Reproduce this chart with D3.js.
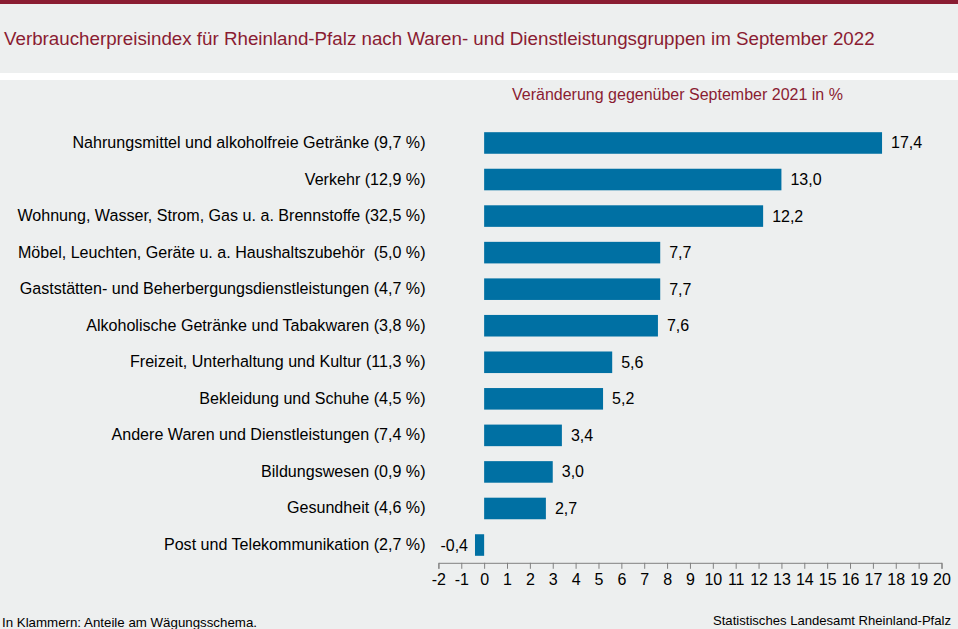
<!DOCTYPE html>
<html>
<head>
<meta charset="utf-8">
<script src="https://cdn.jsdelivr.net/npm/d3@7"></script>
<style>
html, body { margin: 0; padding: 0; background: #edefef; overflow: hidden; }
text { font-family: "Liberation Sans", Arial, sans-serif; }
</style>
</head>
<body>
<div id="chart"></div>
<script>
var categories = [
    "Nahrungsmittel und alkoholfreie Getränke (9,7 %)",
    "Verkehr (12,9 %)",
    "Wohnung, Wasser, Strom, Gas u. a. Brennstoffe (32,5 %)",
    "Möbel, Leuchten, Geräte u. a. Haushaltszubehör  (5,0 %)",
    "Gaststätten- und Beherbergungsdienstleistungen (4,7 %)",
    "Alkoholische Getränke und Tabakwaren (3,8 %)",
    "Freizeit, Unterhaltung und Kultur (11,3 %)",
    "Bekleidung und Schuhe (4,5 %)",
    "Andere Waren und Dienstleistungen (7,4 %)",
    "Bildungswesen (0,9 %)",
    "Gesundheit (4,6 %)",
    "Post und Telekommunikation (2,7 %)"
];
var values = [17.4, 13.0, 12.2, 7.7, 7.7, 7.6, 5.6, 5.2, 3.4, 3.0, 2.7, -0.4];
var ticks = d3.range(-2, 21);

var titleText = "Verbraucherpreisindex für Rheinland-Pfalz nach Waren- und Dienstleistungsgruppen im September 2022";
var subtitleText = "Veränderung gegenüber September 2021 in %";
var noteText = "In Klammern: Anteile am Wägungsschema.";
var sourceText = "Statistisches Landesamt Rheinland-Pfalz";

var width = 958, height = 629;
var wine = "#8a1c32", blue = "#0070a3";

var svg = d3.select("#chart").append("svg")
    .attr("width", width)
    .attr("height", height)
    .style("display", "block");

//background and header stripes
svg.append("rect").attr("width", width).attr("height", height).attr("fill", "#edefef");
svg.append("rect").attr("width", width).attr("height", 4).attr("fill", wine);
svg.append("rect").attr("y", 73).attr("width", width).attr("height", 7).attr("fill", "#fff");

svg.append("text").text(titleText)
    .attr("x", 4).attr("y", 45)
    .attr("font-size", "18.75px")
    .attr("fill", wine);

svg.append("text").text(subtitleText)
    .attr("x", 512).attr("y", 100)
    .attr("font-size", "16px")
    .attr("fill", wine);

//scales
var x = d3.scaleLinear().domain([-2, 20]).range([438.4, 941.5]);
var y = d3.scaleBand().domain(categories).range([124.7, 563.3]).paddingInner(0.41).paddingOuter(0.205);

//bars
svg.selectAll("rect.bar")
    .data(values)
    .enter()
    .append("rect")
    .attr("class", "bar")
    .attr("x", function(d) { return x(Math.min(0, d)); })
    .attr("y", function(d, i) { return y(categories[i]); })
    .attr("width", function(d) { return Math.abs(x(d) - x(0)); })
    .attr("height", y.bandwidth())
    .attr("fill", blue);

//value labels
var fmt = function(d) { return d.toFixed(1).replace(".", ","); };
svg.selectAll("text.value")
    .data(values)
    .enter()
    .append("text")
    .attr("class", "value")
    .text(fmt)
    .attr("x", function(d) { return d < 0 ? x(d) - 7 : x(d) + 9; })
    .attr("y", function(d, i) { return y(categories[i]) + y.bandwidth() / 2 + 5.5; })
    .attr("text-anchor", function(d) { return d < 0 ? "end" : "start"; })
    .attr("font-size", "16px")
    .attr("fill", "#000");

//category labels
svg.selectAll("text.cat")
    .data(categories)
    .enter()
    .append("text")
    .attr("class", "cat")
    .text(function(d) { return d; })
    .attr("xml:space", "preserve")
    .attr("x", 425.5)
    .attr("y", function(d) { return y(d) + y.bandwidth() / 2 + 5; })
    .attr("text-anchor", "end")
    .attr("font-size", "16.08px")
    .attr("fill", "#000");

//x axis, plain hyphen on the negative ticks
var axis = d3.axisBottom(x).tickValues(ticks).tickSize(6).tickPadding(5).tickFormat(String);
var gx = svg.append("g")
    .attr("transform", "translate(0,562.8)")
    .call(axis);
gx.selectAll("path, line").attr("stroke", "#808080");
gx.selectAll("text")
    .attr("font-family", "Liberation Sans")
    .attr("font-size", "16px")
    .attr("fill", "#000");

svg.append("text").text(noteText)
    .attr("x", 2).attr("y", 626.5)
    .attr("font-size", "13.3px")
    .attr("fill", "#000");

svg.append("text").text(sourceText)
    .attr("x", 951).attr("y", 624.5)
    .attr("text-anchor", "end")
    .attr("font-size", "13.1px")
    .attr("fill", "#000");
</script>
</body>
</html>
